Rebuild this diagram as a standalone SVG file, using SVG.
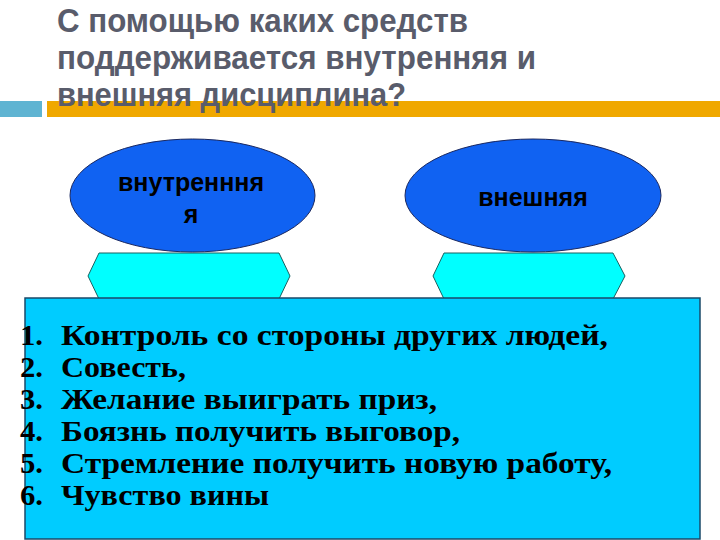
<svg xmlns="http://www.w3.org/2000/svg" width="720" height="540" viewBox="0 0 720 540">
<style>
.title{font-family:"Liberation Sans",Arial,sans-serif;font-weight:bold;font-size:33px;fill:#595c6b}
.oval{fill:#1062f2;stroke:#1a2860;stroke-width:1}
.hex{fill:#00ffff;stroke:#1a6060;stroke-width:1}
.olabel{font-family:"Liberation Sans",Arial,sans-serif;font-weight:bold;font-size:25px;fill:#000;text-anchor:middle}
.list{font-family:"Liberation Serif","Times New Roman",serif;font-weight:bold;font-size:30px;fill:#000}
</style>
<rect width="720" height="540" fill="#ffffff"/>
<g id="title">
<rect x="0" y="101" width="42" height="16" fill="#5fb4d2"/>
<rect x="47" y="101" width="673" height="16" fill="#f0a800"/>
<text class="title" x="57" y="32" textLength="411" lengthAdjust="spacingAndGlyphs">С помощью каких средств</text>
<text class="title" x="57" y="69" textLength="479" lengthAdjust="spacingAndGlyphs">поддерживается внутренняя и</text>
<text class="title" x="57" y="106" textLength="349" lengthAdjust="spacingAndGlyphs">внешняя дисциплина?</text>
</g>
<g id="hex-left"><polygon class="hex" points="99,253 279,253 290,276 279,299 99,299 88,276"/></g>
<g id="hex-right"><polygon class="hex" points="444,253 613,253 625,276 613,299 444,299 433,276"/></g>
<g id="oval-inner">
<ellipse class="oval" cx="192.5" cy="195.5" rx="122.5" ry="56.5"/>
<text class="olabel" x="191" y="191">внутренння</text>
<text class="olabel" x="191" y="223">я</text>
</g>
<g id="oval-outer">
<ellipse class="oval" cx="533" cy="195.5" rx="128" ry="56.5"/>
<text class="olabel" x="533" y="206">внешняя</text>
</g>
<g id="connectors"></g>
<g id="list">
<rect x="25" y="298" width="675" height="241" fill="#00ccff" stroke="#1a4a6a" stroke-width="1.5"/>
<text class="list" x="20" y="345" textLength="23" lengthAdjust="spacingAndGlyphs">1.</text><text class="list" x="61" y="345" textLength="547" lengthAdjust="spacingAndGlyphs">Контроль со стороны других людей,</text>
<text class="list" x="20" y="377" textLength="23" lengthAdjust="spacingAndGlyphs">2.</text><text class="list" x="61" y="377" textLength="125" lengthAdjust="spacingAndGlyphs">Совесть,</text>
<text class="list" x="20" y="409" textLength="23" lengthAdjust="spacingAndGlyphs">3.</text><text class="list" x="61" y="409" textLength="376" lengthAdjust="spacingAndGlyphs">Желание выиграть приз,</text>
<text class="list" x="20" y="441" textLength="23" lengthAdjust="spacingAndGlyphs">4.</text><text class="list" x="61" y="441" textLength="399" lengthAdjust="spacingAndGlyphs">Боязнь получить выговор,</text>
<text class="list" x="20" y="473" textLength="23" lengthAdjust="spacingAndGlyphs">5.</text><text class="list" x="61" y="473" textLength="551" lengthAdjust="spacingAndGlyphs">Стремление получить новую работу,</text>
<text class="list" x="20" y="505" textLength="23" lengthAdjust="spacingAndGlyphs">6.</text><text class="list" x="61" y="505" textLength="208" lengthAdjust="spacingAndGlyphs">Чувство вины</text>
</g>
</svg>
